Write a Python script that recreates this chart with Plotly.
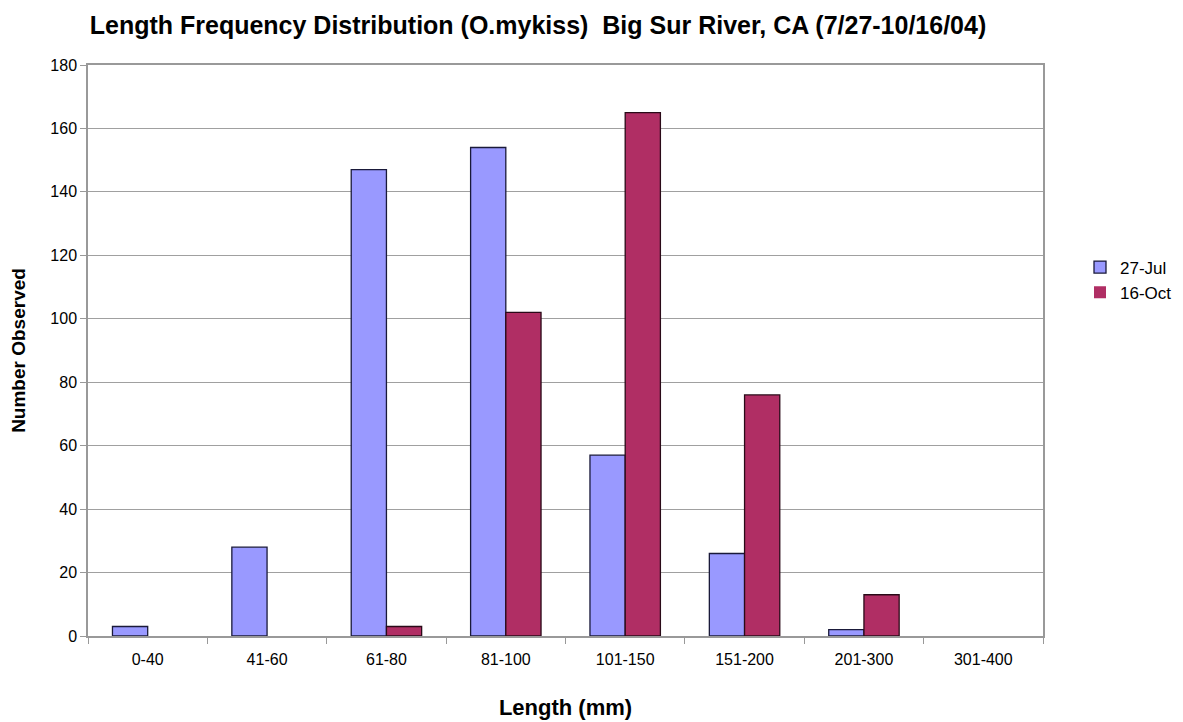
import plotly.graph_objects as go

categories = ["0-40", "41-60", "61-80", "81-100", "101-150", "151-200", "201-300", "301-400"]
jul_values = [3, 28, 147, 154, 57, 26, 2, 0]
oct_values = [0, 0, 3, 102, 165, 76, 13, 0]
series_names = ["27-Jul", "16-Oct"]
y_ticks = [0, 20, 40, 60, 80, 100, 120, 140, 160, 180]

FONT = "Liberation Sans, Arial, sans-serif"


def outline_widths(values):
    # no outline on empty bars (as in the reference)
    return [1.3 if v else 0 for v in values]


fig = go.Figure()
fig.add_trace(go.Bar(x=categories, y=jul_values, name=series_names[0],
                     marker=dict(color="#9999FF",
                                 line=dict(color="#1a1a3a", width=outline_widths(jul_values)))))
fig.add_trace(go.Bar(x=categories, y=oct_values, name=series_names[1],
                     marker=dict(color="#B02E64",
                                 line=dict(color="#2a0a18", width=outline_widths(oct_values)))))

fig.update_layout(
    width=1183, height=722,
    margin=dict(l=88, r=140, t=65, b=86),
    paper_bgcolor="white", plot_bgcolor="white",
    barmode="group", bargap=0.41, bargroupgap=0,
    font=dict(family=FONT, color="black", size=16),
    title=dict(text="<b>Length Frequency Distribution (O.mykiss)  Big Sur River, CA (7/27-10/16/04)</b>",
               x=538 / 1183, xanchor="center", xref="container",
               y=1 - 25 / 722, yanchor="middle", yref="container",
               font=dict(size=25, family=FONT)),
    legend=dict(xref="container", yref="container",
                x=1080 / 1183, y=1 - 280 / 722, xanchor="left", yanchor="middle",
                font=dict(size=17, family=FONT), tracegroupgap=0,
                bgcolor="rgba(0,0,0,0)", borderwidth=0),
    showlegend=True,
)
fig.update_xaxes(
    title=dict(text="<b>Length (mm)</b>", font=dict(size=22, family=FONT), standoff=33),
    automargin=False,
    showline=True, linecolor="#999999", linewidth=1.5, mirror=True,
    ticks="outside", tickson="boundaries", ticklen=6, tickcolor="#999999",
    tickfont=dict(size=16), ticklabelstandoff=8, showgrid=False,
)
fig.update_yaxes(
    title=dict(text="<b>Number Observed</b>", font=dict(size=19, family=FONT), standoff=20),
    automargin=False,
    range=[0, 180], tickvals=y_ticks, showgrid=True, gridcolor="#A0A0A0", gridwidth=1,
    showline=True, linecolor="#999999", linewidth=1.5, mirror=True,
    ticks="outside", ticklen=6, tickcolor="#999999", tickfont=dict(size=16),
    zeroline=False,
)

fig.write_html("out.html")
